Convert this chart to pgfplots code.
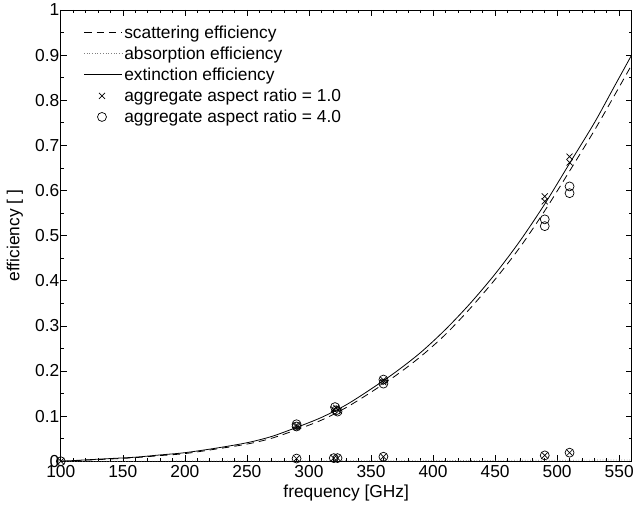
\documentclass[border=0pt]{standalone}
\usepackage{pgfplots}
\pgfplotsset{compat=1.18}
\usepackage{fontspec}
\setmainfont{Liberation Sans}
\pgfplotsset{
  lineleg/.style={legend image code/.code={\draw[##1] (0bp,0bp) -- (38bp,0bp);}},
  markleg/.style={legend image code/.code={\draw[##1] plot coordinates {(18bp,0bp)};}},
}
\begin{document}
\begin{tikzpicture}
\begin{axis}[
  scale only axis,
  width=573bp, height=453bp,
  xmin=100, xmax=560, ymin=0, ymax=1,
  xtick={100,150,...,550},
  ytick={0,0.1,...,1},
  minor x tick num=4,
  minor y tick num=1,
  tick align=inside,
  major tick length=6bp,
  minor tick length=3bp,
  tick style={black, line width=0.6bp},
  axis line style={line width=0.9bp},
  /pgf/number format/assume math mode=true,
  yticklabel style={/pgf/number format/fixed, /pgf/number format/precision=1},
  tick label style={font=\fontsize{17.5}{19}\selectfont},
  label style={font=\fontsize{17.5}{19}\selectfont},
  xticklabel style={yshift=-1bp},
  yticklabel style={xshift=2bp},
  xlabel={frequency [GHz]},
  ylabel={efficiency [ ]},
  xlabel style={at={(axis description cs:0.5,0)}, anchor=north, inner sep=0pt, yshift=-24bp},
  ylabel style={at={(axis description cs:0,0.5)}, anchor=center, inner sep=0pt, yshift=46bp},
  legend style={draw=none, fill=none, at={(0.038,0.972)}, anchor=north west,
    font=\fontsize{17.5}{19}\selectfont, row sep=3.0bp, inner sep=1bp},
  legend cell align=left,
]
% scattering efficiency
\addplot[black, line width=0.8bp, dash pattern=on 7.5bp off 5bp, smooth, lineleg] coordinates {
(100,0.000) (120,0.0025) (140,0.005) (160,0.008) (180,0.0125) (200,0.017)
(225,0.027) (250,0.038) (270,0.051) (290,0.070) (310,0.091) (330,0.119)
(350,0.153) (370,0.190) (390,0.232) (410,0.281) (430,0.339) (450,0.403)
(470,0.474) (490,0.555) (510,0.643) (530,0.733) (545,0.805) (560,0.878)
};
\addlegendentry{scattering efficiency}
% absorption efficiency
\addplot[gray, line width=0.7bp, dotted, smooth, lineleg] coordinates {
(100,0.0001) (150,0.0002) (200,0.0004) (250,0.0006) (300,0.0009) (350,0.0012)
(400,0.0015) (450,0.0019) (490,0.0022) (510,0.0024) (560,0.0028)
};
\addlegendentry{absorption efficiency}
% extinction efficiency
\addplot[black, line width=0.8bp, smooth, lineleg] coordinates {
(100,0.000) (120,0.003) (140,0.006) (160,0.009) (180,0.014) (200,0.019)
(225,0.029) (250,0.041) (270,0.055) (290,0.075) (310,0.097) (330,0.125)
(350,0.160) (370,0.198) (390,0.241) (410,0.292) (430,0.350) (450,0.415)
(470,0.488) (490,0.570) (510,0.660) (530,0.750) (545,0.825) (560,0.900)
};
\addlegendentry{extinction efficiency}
% aspect ratio 1.0
\addplot[black, only marks, mark=x, mark size=4.3bp, line width=0.7bp, markleg] coordinates {
(100,0.0)
(290,0.080) (290,0.076) (290,0.006)
(320,0.115) (322,0.118) (324,0.112) (320,0.007) (323,0.007)
(360,0.180) (360,0.175) (360,0.010)
(490,0.587) (490,0.576) (490,0.013)
(510,0.675) (510,0.662) (510,0.019)
};
\addlegendentry{aggregate aspect ratio = 1.0}
% aspect ratio 4.0
\addplot[black, only marks, mark=o, mark size=4.5bp, line width=0.7bp, markleg] coordinates {
(100,0.0)
(290,0.082) (290,0.077) (290,0.006)
(321,0.120) (322,0.113) (323,0.110) (320,0.007) (323,0.007)
(360,0.181) (360,0.172) (360,0.010)
(490,0.536) (490,0.521) (490,0.013)
(510,0.609) (510,0.594) (510,0.019)
};
\addlegendentry{aggregate aspect ratio = 4.0}
\end{axis}
\path (current axis.south west) ++(-61bp,-46bp) coordinate (bbA);
\path (current axis.north east) ++(3bp,10bp) coordinate (bbB);
\path (bbA) rectangle (bbB);
\end{tikzpicture}
\end{document}
